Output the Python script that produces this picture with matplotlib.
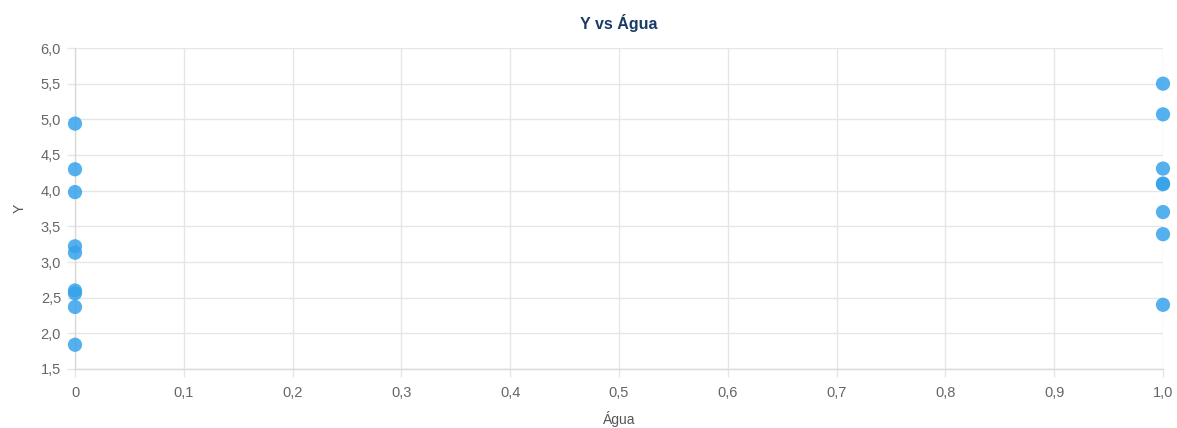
import matplotlib
matplotlib.use("Agg")
import matplotlib.pyplot as plt
from matplotlib.ticker import FuncFormatter, MultipleLocator

agua_x = [0, 0, 0, 0, 0, 0, 0, 0, 0,
          1, 1, 1, 1, 1, 1, 1, 1]
y_vals = [4.94, 4.30, 3.98, 3.22, 3.13, 2.60, 2.56, 2.37, 1.84,
          5.50, 5.07, 4.31, 4.10, 4.09, 3.70, 3.39, 2.40]

title = "Y vs Água"
x_label = "Água"
y_label = "Y"

plt.rcParams['font.family'] = ['Liberation Sans', 'DejaVu Sans']

fig = plt.figure(figsize=(11.77, 4.28), dpi=100)
ax = fig.add_axes([75/1177, 1-369/428, (1163-75)/1177, (369-48)/428])

ax.scatter(agua_x, y_vals, s=105, color=(54/255, 162/255, 235/255, 0.85),
           edgecolors='none', zorder=3, clip_on=False)

ax.set_xlim(0, 1)
ax.set_ylim(1.5, 6.0)
ax.xaxis.set_major_locator(MultipleLocator(0.1))
ax.yaxis.set_major_locator(MultipleLocator(0.5))

def fmt_x(v, pos):
    if abs(v) < 1e-9:
        return "0"
    return f"{v:.1f}".replace(".", ",")

def fmt_y(v, pos):
    return f"{v:.1f}".replace(".", ",")

ax.xaxis.set_major_formatter(FuncFormatter(fmt_x))
ax.yaxis.set_major_formatter(FuncFormatter(fmt_y))

ax.grid(True, color='#e6e6e6', linewidth=1, zorder=0)
for side in ['top', 'right']:
    ax.spines[side].set_visible(False)
for side in ['left', 'bottom']:
    ax.spines[side].set_color('#d9d9d9')
    ax.spines[side].set_linewidth(1)

ax.tick_params(axis='both', colors='#e6e6e6', labelcolor='#666666',
               labelsize=10.5, length=6, width=1)
ax.tick_params(axis='x', pad=6)
ax.tick_params(axis='y', pad=4)

ax.set_xlabel(x_label, fontsize=10, color='#555555', labelpad=8)
ax.set_ylabel(y_label, fontsize=10, color='#555555', labelpad=10)
ax.set_title(title, fontsize=11.5, fontweight='bold', color='#1b3a66', pad=14)

fig.savefig("out.png", dpi=100)
